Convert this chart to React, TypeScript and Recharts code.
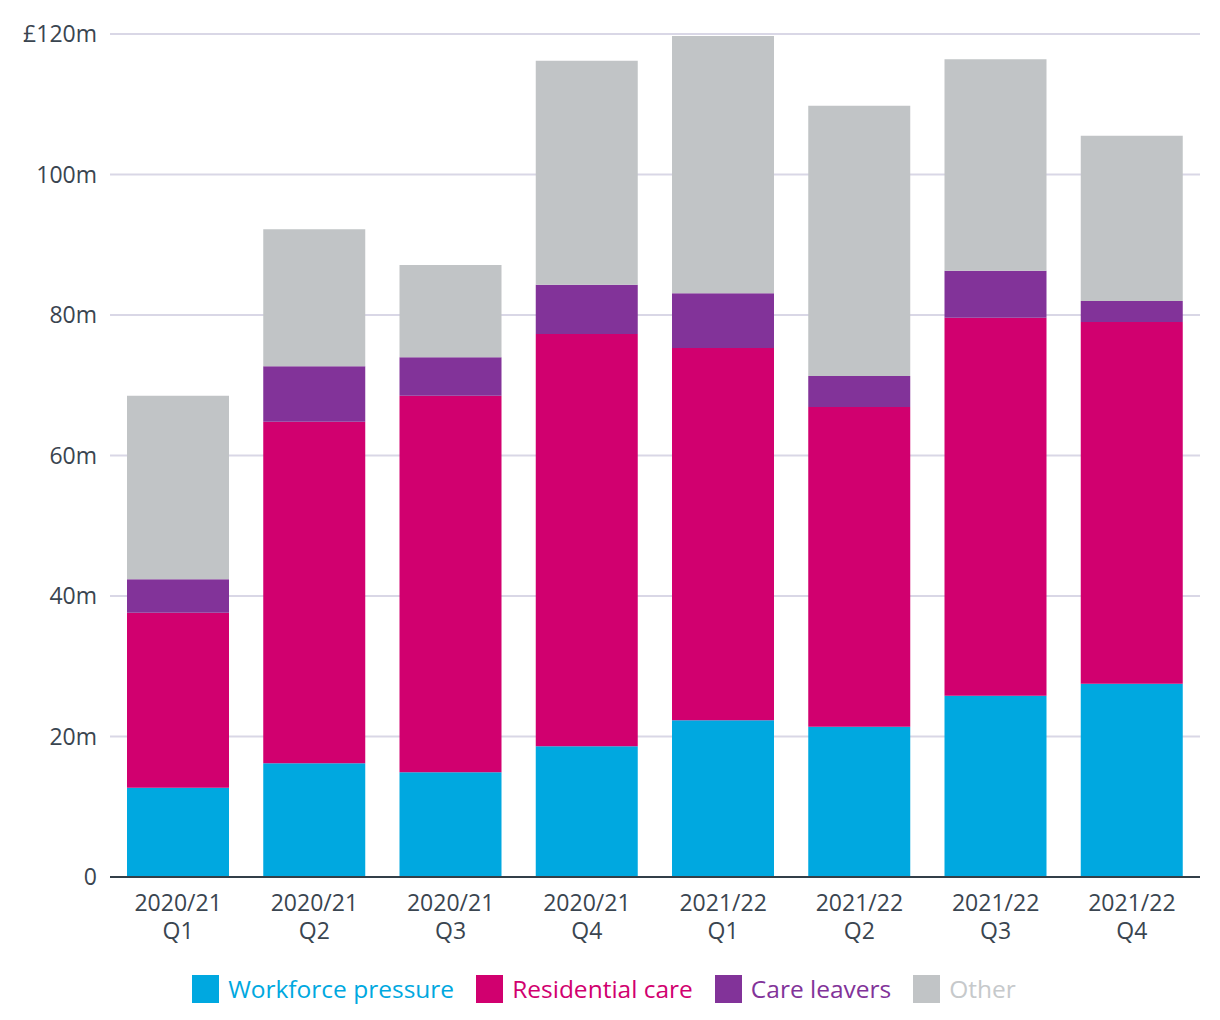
import React from "react";
import { BarChart, Bar, XAxis, YAxis, CartesianGrid, Legend } from "recharts";

const categories = [
  ["2020/21", "Q1"],
  ["2020/21", "Q2"],
  ["2020/21", "Q3"],
  ["2020/21", "Q4"],
  ["2021/22", "Q1"],
  ["2021/22", "Q2"],
  ["2021/22", "Q3"],
  ["2021/22", "Q4"],
];
const workforcePressure = [12.7, 16.2, 14.9, 18.6, 22.3, 21.4, 25.8, 27.5];
const residentialCare = [24.9, 48.6, 53.6, 58.7, 53.0, 45.5, 53.8, 51.5];
const careLeavers = [4.8, 7.9, 5.5, 7.0, 7.8, 4.4, 6.7, 3.0];
const other = [26.1, 19.5, 13.1, 31.9, 36.6, 38.5, 30.1, 23.5];
const yTicks = [0, 20, 40, 60, 80, 100, 120];

const seriesList = [
  { key: "workforce", name: "Workforce pressure", color: "#00A8E0", text: "#00A8E0" },
  { key: "residential", name: "Residential care", color: "#D1006F", text: "#D1006F" },
  { key: "leavers", name: "Care leavers", color: "#823399", text: "#823399" },
  { key: "other", name: "Other", color: "#C1C4C6", text: "#C6C9CB" },
];

const data = categories.map((c, i) => ({
  label: c.join("\n"),
  workforce: workforcePressure[i],
  residential: residentialCare[i],
  leavers: careLeavers[i],
  other: other[i],
}));

const FONT = "'Open Sans', 'Noto Sans', sans-serif";
const TEXT = "#3A4550";
const TICK_SIZE = 23;

const formatY = (v: number) => (v === 0 ? "0" : v === 120 ? `£${v}m` : `${v}m`);

const XTick = (props: any) => {
  const { x, y, payload } = props;
  const parts = String(payload.value).split("\n");
  return (
    <text x={x} y={y + 34} textAnchor="middle" fill={TEXT} fontSize={TICK_SIZE} fontFamily={FONT}>
      <tspan x={x} y={y + 34}>{parts[0]}</tspan>
      <tspan x={x} y={y + 62}>{parts[1]}</tspan>
    </text>
  );
};

const LegendContent = () => (
  <div
    style={{
      height: 63,
      display: "flex",
      justifyContent: "center",
      alignItems: "center",
      fontFamily: FONT,
      fontSize: 24.5,
      boxSizing: "border-box",
      width: 1220,
      transform: "translateX(-6px)",
    }}
  >
    {seriesList.map((s, i) => (
      <div
        key={s.key}
        style={{ display: "flex", alignItems: "center", marginRight: i < seriesList.length - 1 ? 22 : 0 }}
      >
        <div style={{ width: 27, height: 28, background: s.color, marginRight: 9 }} />
        <span style={{ color: s.text }}>{s.name}</span>
      </div>
    ))}
  </div>
);

export default function App() {
  return (
    <div style={{ position: "absolute", left: 0, top: 0, width: 1220, height: 1020, background: "#fff" }}>
      <BarChart
        width={1220}
        height={1020}
        data={data}
        margin={{ top: 34, right: 20, left: 0, bottom: 0 }}
        barSize={102}
      >
        <CartesianGrid vertical={false} stroke="#D9D7E6" strokeWidth={2} />
        <YAxis
          type="number"
          domain={[0, 120]}
          ticks={yTicks}
          interval={0}
          width={110}
          axisLine={false}
          tickLine={false}
          tickSize={0}
          tickMargin={13}
          tickFormatter={formatY}
          tick={{ fill: TEXT, fontSize: TICK_SIZE, fontFamily: FONT }}
        />
        <XAxis
          dataKey="label"
          height={80}
          interval={0}
          tickLine={false}
          tickSize={0}
          tickMargin={0}
          axisLine={{ stroke: "#333F48", strokeWidth: 2 }}
          tick={<XTick />}
        />
        <Legend verticalAlign="bottom" content={<LegendContent />} />
        {seriesList.map((s) => (
          <Bar
            key={s.key}
            dataKey={s.key}
            name={s.name}
            stackId="a"
            fill={s.color}
            isAnimationActive={false}
          />
        ))}
      </BarChart>
    </div>
  );
}
